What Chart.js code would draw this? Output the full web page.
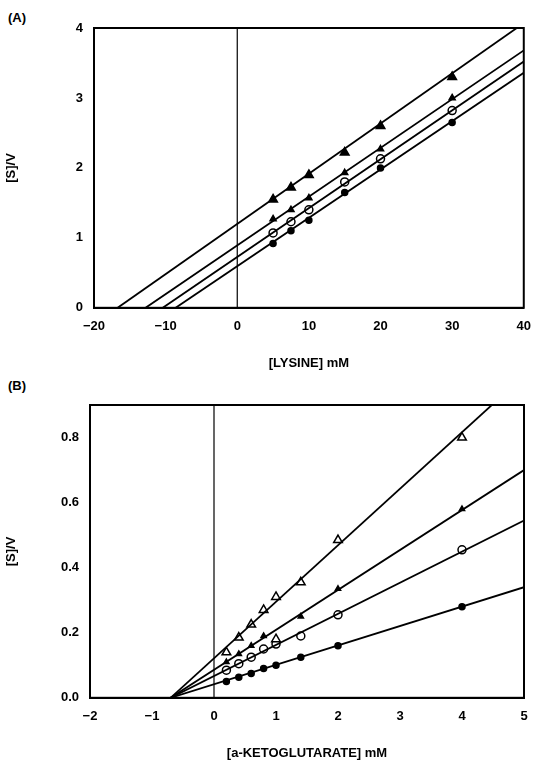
<!DOCTYPE html>
<html><head>
<script src="https://cdn.jsdelivr.net/npm/chart.js@4"></script>
<style>
body{margin:0;background:#fff;width:534px;height:765px;position:relative;font-family:"Liberation Sans",Arial,sans-serif}
.p{position:absolute;left:0;width:534px}
.lab{position:absolute;font-weight:bold;font-size:13px}
</style></head><body>
<div class="lab" style="left:8px;top:10px">(A)</div>
<div class="lab" style="left:8px;top:378px">(B)</div>
<div class="p" style="top:0;height:375px"><canvas id="a"></canvas></div>
<div class="p" style="top:375px;height:390px"><canvas id="b"></canvas></div>
<script>
// panel A: [LYSINE]
const lysX = [5, 7.5, 10, 15, 20, 30];
const aOpenTri = [1.55, 1.72, 1.9, 2.22, 2.6, 3.3];
const aFillTri = [1.27, 1.4, 1.57, 1.93, 2.27, 3.0];
const aOpenCir = [1.07, 1.23, 1.4, 1.8, 2.13, 2.82];
const aFillCir = [0.92, 1.1, 1.25, 1.65, 2.0, 2.65];
// fitted lines: [x1, y1, x2, y2]
const aLines = [[-16.7, 0, 40, 4.07], [-12.8, 0, 40, 3.68], [-10.4, 0, 40, 3.52], [-8.6, 0, 40, 3.36]];

// panel B: [a-KETOGLUTARATE]
const kgX = [0.2, 0.4, 0.6, 0.8, 1.0, 1.4, 2, 4];
const bOpenTri = [0.14, 0.185, 0.225, 0.27, 0.31, 0.355, 0.485, 0.80];
const bFillTri = [0.11, 0.135, 0.16, 0.19, null, 0.25, 0.335, 0.58];
const bOpenCir = [0.085, 0.105, 0.125, 0.15, 0.165, 0.19, 0.255, 0.455];
const bFillCir = [0.05, 0.063, 0.075, 0.09, 0.1, 0.125, 0.16, 0.28];
const bExtraTri = [{x: 1.0, y: 0.18}];
const bLines = [[-0.7, 0, 5, 0.99], [-0.7, 0, 5, 0.70], [-0.7, 0, 5, 0.545], [-0.7, 0, 5, 0.34]];

const F = {family: '"Liberation Sans", Arial, sans-serif', weight: 'bold', size: 13};

function pts(xs, ys) { return xs.map((x, i) => ({x: x, y: ys[i]})).filter(p => p.y != null); }
function mark(data, style, fill, r) {
    return {type: 'scatter', data: data, pointStyle: style, pointRadius: r,
        pointBackgroundColor: fill ? '#000' : '#fff', pointBorderColor: '#000', pointBorderWidth: 1.5};
}
function lineSet(l) {
    return {type: 'line', data: [{x: l[0], y: l[1]}, {x: l[2], y: l[3]}], borderColor: '#000',
        borderWidth: 1.8, pointRadius: 0, showLine: true};
}

// full box round the plot area
const frame = {
    id: 'frame',
    afterDraw(c) {
        const a = c.chartArea, g = c.ctx;
        g.save(); g.strokeStyle = '#000'; g.lineWidth = 2;
        g.strokeRect(a.left, a.top, a.right - a.left, a.bottom - a.top);
        g.restore();
    }
};

function build(id, sets, xr, yr, xTitle, yw, padTop, xStep, yStep, yDec) {
    new Chart(document.getElementById(id), {
        type: 'scatter',
        data: {datasets: sets},
        plugins: [frame],
        options: {
            responsive: true, maintainAspectRatio: false, animation: false,
            layout: {padding: {top: padTop, right: 10}},
            plugins: {legend: {display: false}, tooltip: {enabled: false}},
            scales: {
                x: {min: xr[0], max: xr[1], border: {color: '#000', width: 2},
                    grid: {display: false},
                    ticks: {stepSize: xStep, color: '#000', font: F, callback: v => v < 0 ? '\u2212' + (-v) : v},
                    title: {display: true, text: xTitle, color: '#000', font: F, padding: {top: 18}}},
                y: {min: yr[0], max: yr[1], border: {color: '#000', width: 2},
                    grid: {display: false},
                    afterBuildTicks: s => { s.ticks = s.ticks.filter(t => Math.abs(t.value / yStep - Math.round(t.value / yStep)) < 1e-6); },
                    ticks: {stepSize: yStep, color: '#000', font: F, callback: v => v.toFixed(yDec)},
                    title: {display: true, text: '[S]/V', color: '#000', font: F, padding: {bottom: 10}},
                    afterFit: s => { s.width = yw; }}
            }
        }
    });
}

const zeroA = {type: 'line', data: [{x: 0, y: 0}, {x: 0, y: 4}], borderColor: '#000', borderWidth: 1.2, pointRadius: 0};
build('a', [zeroA].concat(aLines.map(lineSet), [
    mark(pts(lysX, aOpenTri), 'triangle', true, 5),
    mark(pts(lysX, aFillTri), 'triangle', true, 3.5),
    mark(pts(lysX, aOpenCir), 'circle', false, 4),
    mark(pts(lysX, aFillCir), 'circle', true, 3)
]), [-20, 40], [0, 4], '[LYSINE] mM', 94, 28, 10, 1, 0);

const zeroB = {type: 'line', data: [{x: 0, y: 0}, {x: 0, y: 0.9}], borderColor: '#000', borderWidth: 1.2, pointRadius: 0};
build('b', [zeroB].concat(bLines.map(lineSet), [
    mark(pts(kgX, bOpenTri).concat(bExtraTri), 'triangle', false, 5),
    mark(pts(kgX, bFillTri), 'triangle', true, 3),
    mark(pts(kgX, bOpenCir), 'circle', false, 4),
    mark(pts(kgX, bFillCir), 'circle', true, 3)
]), [-2, 5], [0, 0.9], '[a-KETOGLUTARATE] mM', 90, 30, 1, 0.2, 1);
</script>
</body></html>
